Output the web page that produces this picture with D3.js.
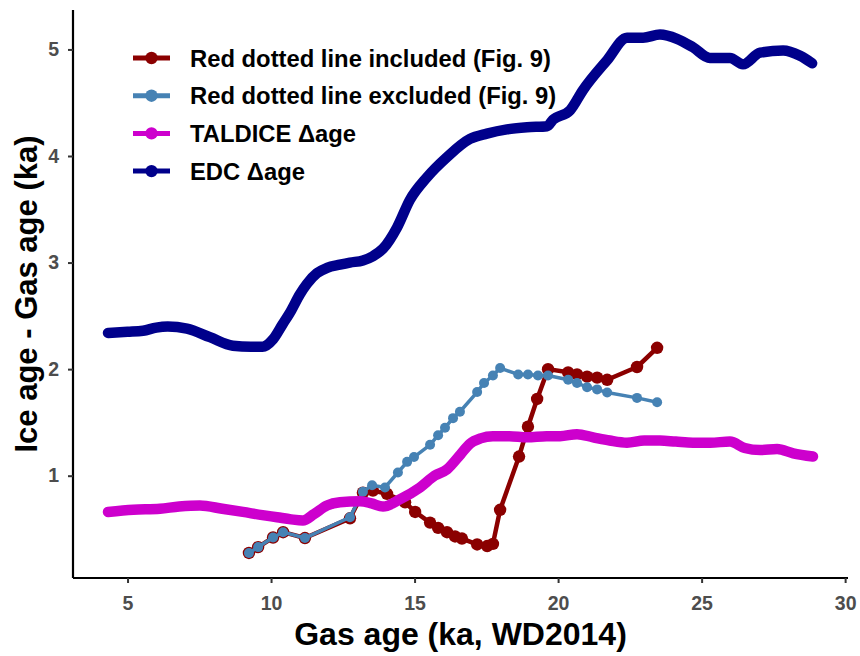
<!DOCTYPE html>
<html>
<head>
<meta charset="utf-8">
<script src="https://cdn.jsdelivr.net/npm/d3@7"></script>
<style>
  body { margin: 0; background: #fff; }
  svg { display: block; font-family: "Liberation Sans", Arial, sans-serif; }
</style>
</head>
<body>
<svg width="860" height="656"></svg>
<script>
// EDC delta age (x = gas age ka, y = delta age ka)
var edc = [[4.32,2.34],[5.0,2.35],[5.54,2.36],[6.0,2.39],[6.4,2.40],[7.07,2.38],[7.87,2.30],[8.67,2.22],
  [9.3,2.21],[9.7,2.21],[10.07,2.28],[10.4,2.42],[10.7,2.55],[11.0,2.70],[11.25,2.80],[11.6,2.90],
  [11.95,2.95],[12.4,2.98],[12.75,3.00],[13.2,3.02],[13.55,3.06],[13.9,3.13],[14.39,3.33],[14.84,3.59],
  [15.43,3.80],[16.13,3.99],[16.93,4.16],[17.52,4.21],[18.22,4.25],[18.92,4.27],[19.62,4.28],[19.82,4.34],
  [20.42,4.43],[20.87,4.62],[21.71,4.90],[22.40,5.11],[22.96,5.11],[23.55,5.14],[24.14,5.10],[24.70,5.02],
  [25.29,4.92],[25.99,4.92],[26.44,4.86],[27.04,4.97],[27.84,4.99],[28.43,4.94],[28.85,4.87]];

// TALDICE delta age
var taldice = [[4.32,0.66],[5.2,0.68],[6.13,0.69],[6.8,0.71],[7.52,0.72],[8.3,0.69],[9.02,0.66],[9.7,0.63],
  [10.21,0.61],[10.7,0.59],[11.11,0.58],[11.5,0.64],[11.95,0.72],[12.4,0.75],[13.1,0.76],[13.5,0.74],
  [13.9,0.71],[14.5,0.78],[15.19,0.89],[15.7,1.0],[16.13,1.06],[16.6,1.2],[16.93,1.30],[17.3,1.35],
  [17.73,1.37],[18.3,1.37],[18.92,1.36],[19.6,1.37],[20.07,1.37],[20.66,1.39],[21.22,1.36],[21.8,1.33],
  [22.40,1.31],[23.0,1.33],[23.55,1.33],[24.1,1.32],[24.70,1.31],[25.3,1.31],[25.99,1.32],[26.5,1.26],
  [27.04,1.24],[27.63,1.25],[28.19,1.21],[28.88,1.18]];

// Red dotted line included (Fig. 9)
var included = [[9.23,0.275],[9.55,0.33],[10.07,0.42],[10.42,0.47],[11.18,0.415],[12.75,0.60],[13.20,0.84],
  [13.55,0.86],[14.04,0.83],[14.67,0.75],[15.02,0.66],[15.54,0.56],[15.82,0.51],[16.13,0.47],[16.41,0.43],
  [16.65,0.41],[17.18,0.355],[17.53,0.34],[17.73,0.36],[17.98,0.68],[18.64,1.18],[18.95,1.46],[19.27,1.72],
  [19.65,2.0],[20.35,1.97],[20.66,1.95],[21.01,1.93],[21.36,1.92],[21.71,1.90],[22.75,2.02],[23.45,2.20]];

// Red dotted line excluded (Fig. 9)
var excluded = [[9.23,0.275],[9.55,0.33],[10.07,0.42],[10.42,0.47],[11.18,0.415],[12.75,0.61],[13.20,0.85],
  [13.52,0.91],[13.97,0.89],[14.42,1.03],[14.74,1.13],[14.98,1.175],[15.54,1.29],[15.82,1.38],[16.06,1.45],
  [16.34,1.54],[16.58,1.60],[17.18,1.785],[17.42,1.87],[17.73,1.94],[17.98,2.01],[18.61,1.95],[18.95,1.95],
  [19.30,1.94],[19.65,1.94],[20.35,1.90],[20.66,1.87],[21.01,1.83],[21.36,1.81],[21.71,1.78],[22.75,1.73],
  [23.45,1.69]];

var xTicks = [5, 10, 15, 20, 25, 30];
var yTicks = [1, 2, 3, 4, 5];
var legendLabels = ["Red dotted line included (Fig. 9)", "Red dotted line excluded (Fig. 9)", "TALDICE \u0394age", "EDC \u0394age"];
var legendColors = ["#8B0000", "#4682B4", "#CD00CD", "#00008B"];

var svg = d3.select("svg");
var pLeft = 73, pRight = 848, pTop = 10, pBottom = 578;

var x = d3.scaleLinear().domain([3.1, 30.1]).range([pLeft, pRight]);
var y = d3.scaleLinear().domain([0.04, 5.37]).range([pBottom, pTop]);

var line = d3.line()
    .x(function(d) { return x(d[0]); })
    .y(function(d) { return y(d[1]); });

// smooth version for the thick delta age curves
var smooth = d3.line()
    .curve(d3.curveMonotoneX)
    .x(function(d) { return x(d[0]); })
    .y(function(d) { return y(d[1]); });

svg.append("path").datum(edc)
    .attr("d", smooth).attr("fill", "none")
    .attr("stroke", legendColors[3]).attr("stroke-width", 10.5)
    .attr("stroke-linecap", "round").attr("stroke-linejoin", "round");

function pointSeries(data, color, lw, r) {
    var g = svg.append("g");
    g.append("path").datum(data)
        .attr("d", line).attr("fill", "none")
        .attr("stroke", color).attr("stroke-width", lw)
        .attr("stroke-linejoin", "round");
    g.selectAll("circle").data(data).enter().append("circle")
        .attr("cx", function(d) { return x(d[0]); })
        .attr("cy", function(d) { return y(d[1]); })
        .attr("r", r)
        .attr("fill", color);
}

pointSeries(included, legendColors[0], 4.5, 6.2);
pointSeries(excluded, legendColors[1], 3.5, 5);

svg.append("path").datum(taldice)
    .attr("d", smooth).attr("fill", "none")
    .attr("stroke", legendColors[2]).attr("stroke-width", 10.5)
    .attr("stroke-linecap", "round").attr("stroke-linejoin", "round");

// axes
var xAxis = svg.append("g")
    .attr("transform", "translate(0," + pBottom + ")")
    .call(d3.axisBottom(x).tickValues(xTicks).tickFormat(d3.format("d")).tickSize(5).tickPadding(13));
var yAxis = svg.append("g")
    .attr("transform", "translate(" + pLeft + ",0)")
    .call(d3.axisLeft(y).tickValues(yTicks).tickFormat(d3.format("d")).tickSize(5).tickPadding(9));

[xAxis, yAxis].forEach(function(a) {
    a.select(".domain").attr("stroke", "#000").attr("stroke-width", 2.2);
    a.selectAll(".tick line").attr("stroke", "#333").attr("stroke-width", 2);
    a.selectAll(".tick text")
        .attr("fill", "#4D4D4D")
        .style("font-size", "19.5px")
        .style("font-weight", "bold")
        .style("font-family", "'Liberation Sans', Arial, sans-serif");
});
xAxis.select(".domain").attr("d", "M" + pLeft + ",0H" + pRight);
yAxis.select(".domain").attr("d", "M0," + pTop + "V" + pBottom);

// axis titles
svg.append("text")
    .attr("x", (pLeft + pRight) / 2).attr("y", 645)
    .attr("text-anchor", "middle")
    .style("font-size", "32px").style("font-weight", "bold")
    .text("Gas age (ka, WD2014)");

svg.append("text")
    .attr("transform", "translate(37," + ((pTop + pBottom) / 2) + ") rotate(-90)")
    .attr("text-anchor", "middle")
    .style("font-size", "31px").style("font-weight", "bold")
    .text("Ice age - Gas age (ka)");

// legend
var legend = svg.append("g").attr("transform", "translate(133,58)");
var item = legend.selectAll("g").data(legendLabels).enter().append("g")
    .attr("transform", function(d, i) { return "translate(0," + (i * 37.7) + ")"; });

item.append("line")
    .attr("x1", 0).attr("x2", 37).attr("y1", 0).attr("y2", 0)
    .attr("stroke", function(d, i) { return legendColors[i]; })
    .attr("stroke-width", 5);
item.append("circle")
    .attr("cx", 18.5).attr("cy", 0).attr("r", 6.2)
    .attr("fill", function(d, i) { return legendColors[i]; });
item.append("text")
    .attr("x", 57).attr("y", 8.5)
    .style("font-size", "23.8px").style("font-weight", "bold")
    .text(function(d) { return d; });
</script>
</body>
</html>
